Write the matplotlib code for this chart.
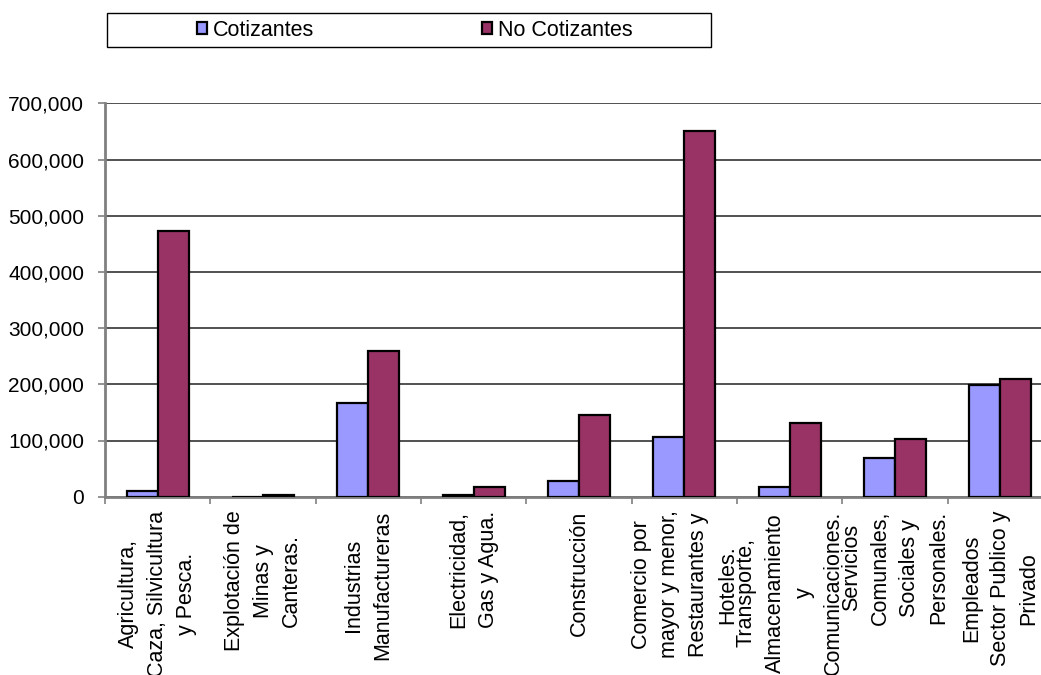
import numpy as np
import matplotlib
matplotlib.use("Agg")
import matplotlib.pyplot as plt
from matplotlib.ticker import FuncFormatter, FixedLocator
from matplotlib.patches import Rectangle

plt.rcParams["font.family"] = ["Liberation Sans", "DejaVu Sans"]

# ramas de actividad y ocupados por condicion de cotizacion
ramas = [
    "Agricultura,\nCaza, Silvicultura\ny Pesca.",
    "Explotación de\nMinas y\nCanteras.",
    "Industrias\nManufactureras",
    "Electricidad,\nGas y Agua.",
    "Construcción",
    "Comercio por\nmayor y menor,\nRestaurantes y\nHoteles.",
    "Transporte,\nAlmacenamiento\ny\nComunicaciones.",
    "Servicios\nComunales,\nSociales y\nPersonales.",
    "Empleados\nSector Publico y\nPrivado",
]
cotizantes = [10500, 300, 166000, 3000, 28000, 106000, 17000, 68000, 198000]
no_cotizantes = [472000, 3000, 259000, 17000, 145000, 650000, 131000, 103000, 209000]

azul = "#9999FF"
morado = "#993366"
fs = 15.5

fig = plt.figure(figsize=(10.41, 6.75), dpi=100)
ax = fig.add_axes([105 / 1041, 1 - 496.7 / 675, 948 / 1041, (496.7 - 103.3) / 675])

x = np.arange(len(ramas))
w = 0.295
ax.bar(x - w / 2, cotizantes, w, color=azul, edgecolor="black", linewidth=1.6,
       label="Cotizantes", zorder=3)
ax.bar(x + w / 2, no_cotizantes, w, color=morado, edgecolor="black", linewidth=1.6,
       label="No Cotizantes", zorder=3)

ax.set_xlim(-0.5, len(ramas) - 0.5)
ax.set_ylim(0, 700000)
ax.set_yticks(np.arange(0, 700001, 100000))
ax.yaxis.set_major_formatter(FuncFormatter(lambda v, p: f"{v:,.0f}"))
ax.grid(axis="y", color="#222222", linewidth=1.1, zorder=0)

# marcas en los limites de cada rama, etiquetas en el centro
ax.xaxis.set_major_locator(FixedLocator(np.arange(-0.5, len(ramas), 1.0)))
ax.xaxis.set_minor_locator(FixedLocator(x))
ax.set_xticklabels([], minor=False)
ax.set_xticklabels(ramas, minor=True, rotation=90, va="top", ha="center",
                   multialignment="center", fontsize=fs, linespacing=1.49)
ax.tick_params(axis="x", which="minor", length=0, pad=10)
ax.tick_params(axis="x", which="major", length=5, color="#808080", width=1.2)
ax.tick_params(axis="y", length=5, color="#808080", width=1.2, labelsize=15, pad=10)

for s in ["top", "right"]:
    ax.spines[s].set_visible(False)
for s in ["left", "bottom"]:
    ax.spines[s].set_color("#808080")
    ax.spines[s].set_linewidth(2)
ax.spines["left"].set_zorder(4)

# leyenda en recuadro superior
fig.patches.append(Rectangle((107 / 1041, 1 - 47 / 675), 604 / 1041, 34 / 675,
                             transform=fig.transFigure, fill=False,
                             edgecolor="black", linewidth=1))
fig.legend(loc="center", bbox_to_anchor=(415 / 1041, 1 - 30 / 675), ncol=2,
           frameon=False, fontsize=fs, handlelength=0.45, handleheight=0.45,
           handletextpad=0.3, columnspacing=7.8)

fig.savefig("out.png", dpi=100)
